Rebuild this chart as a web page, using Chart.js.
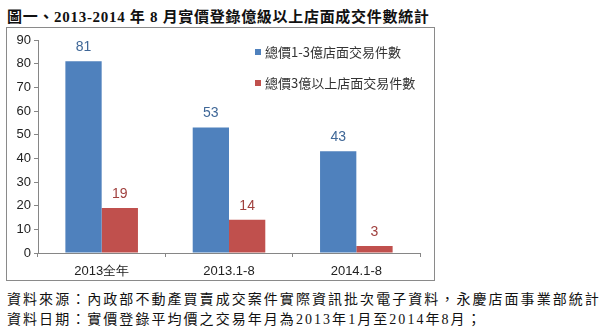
<!DOCTYPE html>
<html>
<head>
<meta charset="utf-8">
<script src="https://cdn.jsdelivr.net/npm/chart.js@4/dist/chart.umd.min.js"></script>
<style>
  body { margin: 0; width: 600px; height: 331px; background: #fff; position: relative; overflow: hidden; }
  #title { position: absolute; left: 7px; top: 5px; font: bold 15px "Liberation Serif", "Noto Sans CJK TC"; letter-spacing: 0.7px; color: #111; white-space: nowrap; }
  #box { position: absolute; left: 6px; top: 27px; width: 427px; height: 252px; border: 1px solid #8a8a8a; }
  .note { position: absolute; left: 7px; font: 14px "Liberation Serif", "Noto Sans CJK TC"; letter-spacing: 2.05px; color: #111; white-space: nowrap; }
</style>
</head>
<body>
<div id="title">圖一、2013-2014 年 8 月實價登錄億級以上店面成交件數統計</div>
<div id="box"><canvas id="myChart"></canvas></div>
<div class="note" style="top:288px">資料來源：內政部不動產買賣成交案件實際資訊批次電子資料，永慶店面事業部統計</div>
<div class="note" style="top:308px">資料日期：實價登錄平均價之交易年月為2013年1月至2014年8月；</div>
<script>
var labels = ['2013全年', '2013.1-8', '2014.1-8']
var seriesNames = ['總價1-3億店面交易件數', '總價3億以上店面交易件數']
var mid = [81, 53, 43]
var high = [19, 14, 3]
var yTicks = [0, 10, 20, 30, 40, 50, 60, 70, 80, 90]

var barColors = ['#4F81BD', '#C0504D']
var labelColors = ['#3F6797', '#A0403E']

// value labels over bars
var valueLabels = {
    id: 'valueLabels',
    afterDatasetsDraw(chart) {
        var ctx = chart.ctx
        ctx.save()
        ctx.font = '14px "Liberation Sans"'
        ctx.textAlign = 'center'
        ctx.textBaseline = 'middle'
        chart.data.datasets.forEach((ds, i) => {
            chart.getDatasetMeta(i).data.forEach((bar, j) => {
                ctx.fillStyle = labelColors[i]
                ctx.fillText(ds.data[j], bar.x, bar.y - 14)
            })
        })
        ctx.restore()
    }
}

// legend sits inside the plot, top right
var innerLegend = {
    id: 'innerLegend',
    afterDraw(chart) {
        var ctx = chart.ctx
        var a = chart.chartArea
        ctx.save()
        ctx.font = '13px "Noto Sans CJK TC"'
        ctx.textBaseline = 'middle'
        chart.data.datasets.forEach((ds, i) => {
            var x = a.left + 217
            var y = a.top + 12 + i * 31
            ctx.fillStyle = barColors[i]
            ctx.fillRect(x, y - 3, 6, 6)
            ctx.fillStyle = '#333'
            ctx.fillText(ds.label, x + 10, y)
        })
        ctx.restore()
    }
}

var ctx = document.getElementById('myChart').getContext('2d')
var myChart = new Chart(ctx, {
    type: 'bar',
    data: {
        labels: labels,
        datasets: [{
            label: seriesNames[0],
            data: mid,
            backgroundColor: barColors[0],
            categoryPercentage: 0.57,
            barPercentage: 1
        }, {
            label: seriesNames[1],
            data: high,
            backgroundColor: barColors[1],
            categoryPercentage: 0.57,
            barPercentage: 1
        }]
    },
    options: {
        responsive: true,
        maintainAspectRatio: false,
        animation: false,
        layout: { padding: { left: 0, right: 14, top: 12, bottom: 0 } },
        plugins: {
            legend: { display: false },
            tooltip: { enabled: false }
        },
        scales: {
            x: {
                grid: { drawOnChartArea: false, offset: true, tickLength: 4, color: '#868686' },
                border: { color: '#868686' },
                ticks: { font: { size: 13, family: 'Liberation Sans' }, color: '#222', padding: 7 },
                afterFit: s => { s.height = 27 }
            },
            y: {
                min: 0,
                max: 90,
                afterBuildTicks: s => { s.ticks = yTicks.map(v => ({ value: v })) },
                grid: { drawOnChartArea: false, tickLength: 4, color: '#868686' },
                border: { color: '#868686' },
                ticks: { font: { size: 13, family: 'Liberation Sans' }, color: '#222', padding: 3 },
                afterFit: s => { s.width = 31 }
            }
        }
    },
    plugins: [valueLabels, innerLegend]
})
</script>
</body>
</html>
